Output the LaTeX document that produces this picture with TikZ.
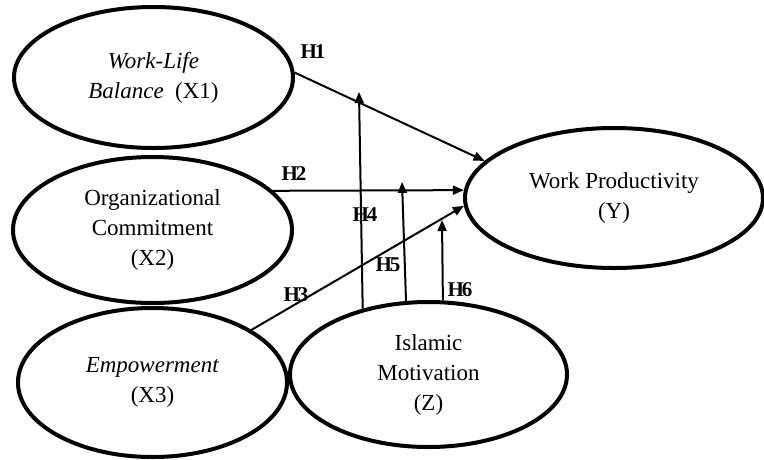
\documentclass[tikz,border=0pt]{standalone}
\usepackage{fontspec}
\setmainfont{Liberation Serif}
\usetikzlibrary{shapes.geometric,arrows.meta,calc}
\newcommand{\hyplab}[1]{H\kern-2pt#1}
\begin{document}
\begin{tikzpicture}[x=1pt,y=-1pt,
 var/.style={ellipse,draw,line width=4pt,fill=white,inner sep=0pt,align=center,font=\fontsize{23}{30}\selectfont},
 arr/.style={line width=2pt,-{Triangle[length=11pt,width=9pt]}},
 hyp/.style={inner sep=0pt,font=\fontsize{21}{22}\selectfont\bfseries}]
\useasboundingbox (0,0) rectangle (764,459);
\node[var,minimum width=279pt,minimum height=141pt] (X1) at (153.5,77.5) {\textit{Work-Life}\\\textit{Balance}~~(X1)};
\node[var,minimum width=279pt,minimum height=146pt] (X2) at (152.5,230) {Organizational\\Commitment\\(X2)};
\node[var,minimum width=269pt,minimum height=149pt] (X3) at (152.5,382.5) {\textit{Empowerment}\\(X3)};
\node[var,minimum width=298pt,minimum height=140pt] (Y) at (614,198) {Work Productivity\\(Y)};
\node[var,minimum width=277pt,minimum height=145pt] (Z) at (428.5,374.5) {Islamic\\Motivation\\(Z)};
\coordinate (t4) at (359,92);
\coordinate (t5) at (402,182);
\coordinate (t6) at (442,220);
\draw[arr] (X1.2.3) -- (Y.164.8);
\draw[arr] (X2.18.4) -- (Y.177.7);
\draw[arr] (X3.28.7) -- (Y.183.4);
\draw[arr] (Z.135) -- (t4);
\draw[arr] (Z.107) -- (t5);
\draw[arr] (Z.79.5) -- (t6);
\node[hyp] (h1) at (313,52) {\hyplab{1}};
\node[hyp] (h2) at (294,174) {\hyplab{2}};
\node[hyp] (h3) at (296,295) {\hyplab{3}};
\node[hyp] (h4) at (365,215) {\hyplab{4}};
\node[hyp] (h5) at (388,265) {\hyplab{5}};
\node[hyp] (h6) at (460,290) {\hyplab{6}};
\end{tikzpicture}
\end{document}
